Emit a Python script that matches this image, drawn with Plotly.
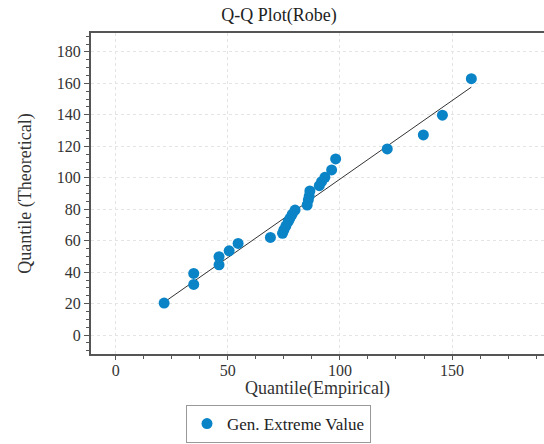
import plotly.graph_objects as go

# Data
emp = [21.6, 34.8, 34.8, 46.1, 46.1, 50.6, 54.6, 69.0, 74.4, 75.0, 75.9, 76.9, 77.7, 78.7, 80.0,
       85.4, 85.9, 86.3, 86.6, 90.8, 91.8, 93.3, 96.3, 98.1, 121.1, 137.2, 145.7, 158.6]
theo = [20.4, 32.2, 39.2, 44.7, 49.8, 53.6, 58.3, 62.1, 64.7, 66.8, 69.3, 72.1, 74.2, 76.8, 79.5,
        82.7, 85.9, 88.4, 91.6, 95.0, 97.5, 100.3, 105.0, 112.0, 118.3, 127.2, 139.8, 163.0]
line_x = [21.6, 158.6]
line_y = [20.9, 157.6]

title_text = "Q-Q Plot(Robe)"
x_title = "Quantile(Empirical)"
y_title = "Quantile (Theoretical)"
series_name = "Gen. Extreme Value"

FONT = "Liberation Serif, Times New Roman, serif"
BLUE = "#0A84C6"

fig = go.Figure()
fig.add_trace(go.Scatter(x=line_x, y=line_y, mode="lines",
                         line=dict(color="#333333", width=1), showlegend=False, hoverinfo="skip"))
fig.add_trace(go.Scatter(x=emp, y=theo, mode="markers", name=series_name,
                         marker=dict(color=BLUE, size=11, line=dict(width=0))))

axis_common = dict(
    showline=True, linecolor="#555555", linewidth=2, mirror=True,
    ticks="outside", tickcolor="#555555", tickwidth=1,
    showgrid=True, gridcolor="#e4e4e4", griddash="3px,3px", gridwidth=1,
    zeroline=False, automargin=False,
    tickfont=dict(family=FONT, size=16, color="#333333"),
    title_font=dict(family=FONT, size=18, color="#333333"),
)

fig.update_xaxes(range=[-11, 191], tickvals=[0, 50, 100, 150], ticklen=4, ticklabelstandoff=-3,
                 minor=dict(dtick=12.5, tick0=0, ticks="outside", ticklen=3, tickcolor="#555555", showgrid=False),
                 **axis_common)
fig.update_yaxes(range=[-12, 192], tickvals=list(range(0, 181, 20)), ticklen=5,
                 minor=dict(dtick=5, tick0=0, ticks="outside", ticklen=3, tickcolor="#555555", showgrid=False),
                 title=dict(text=y_title, standoff=20), **axis_common)

fig.add_annotation(text=x_title, xref="paper", yref="paper", x=0.5, y=-35 / 321,
                   xanchor="center", yanchor="middle", showarrow=False,
                   font=dict(family=FONT, size=18, color="#333333"))

fig.update_layout(
    width=544, height=444,
    margin=dict(l=91, r=0, t=33, b=90, autoexpand=False),
    paper_bgcolor="white", plot_bgcolor="white",
    font=dict(family=FONT, color="#222222"),
    title=dict(text=title_text, x=0.513, xanchor="center", y=1 - 15 / 444, yanchor="middle",
               font=dict(family=FONT, size=18, color="#222222")),
    legend=dict(orientation="h", xref="container", yref="container",
                x=278.5 / 544, xanchor="center", y=1 / 444, yanchor="bottom",
                bordercolor="#999999", borderwidth=1, bgcolor="white",
                font=dict(family=FONT, size=17, color="#222222")),
    showlegend=True,
)

fig.write_html("out.html")
